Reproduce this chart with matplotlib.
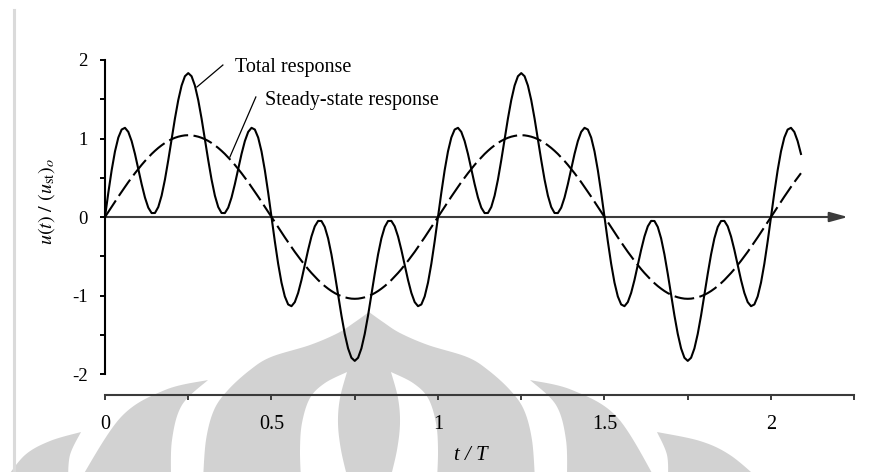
import numpy as np
import matplotlib
matplotlib.use("Agg")
import matplotlib.pyplot as plt
from matplotlib.patches import Polygon
from matplotlib.lines import Line2D
import matplotlib.transforms as mtransforms

# ---------------- data ----------------
t_over_T = np.linspace(0.0, 2.09, 210)   # sampling grid, step 0.01

total_response = [
    0.000, 0.310, 0.596, 0.836, 1.012, 1.114, 1.136, 1.084, 0.967, 0.803,
    0.612, 0.419, 0.248, 0.119, 0.050, 0.051, 0.127, 0.272, 0.477, 0.724,
    0.991, 1.254, 1.489, 1.674, 1.793, 1.833, 1.793, 1.674, 1.489, 1.254,
    0.991, 0.724, 0.477, 0.272, 0.127, 0.051, 0.050, 0.119, 0.248, 0.419,
    0.612, 0.803, 0.967, 1.084, 1.136, 1.114, 1.012, 0.836, 0.596, 0.310,
    0.000, -0.310, -0.596, -0.836, -1.012, -1.114, -1.136, -1.084, -0.967, -0.803,
    -0.612, -0.419, -0.248, -0.119, -0.050, -0.051, -0.127, -0.272, -0.477, -0.724,
    -0.991, -1.254, -1.489, -1.674, -1.793, -1.833, -1.793, -1.674, -1.489, -1.254,
    -0.991, -0.724, -0.477, -0.272, -0.127, -0.051, -0.050, -0.119, -0.248, -0.419,
    -0.612, -0.803, -0.967, -1.084, -1.136, -1.114, -1.012, -0.836, -0.596, -0.310,
    0.000, 0.310, 0.596, 0.836, 1.012, 1.114, 1.136, 1.084, 0.967, 0.803,
    0.612, 0.419, 0.248, 0.119, 0.050, 0.051, 0.127, 0.272, 0.477, 0.724,
    0.991, 1.254, 1.489, 1.674, 1.793, 1.833, 1.793, 1.674, 1.489, 1.254,
    0.991, 0.724, 0.477, 0.272, 0.127, 0.051, 0.050, 0.119, 0.248, 0.419,
    0.612, 0.803, 0.967, 1.084, 1.136, 1.114, 1.012, 0.836, 0.596, 0.310,
    0.000, -0.310, -0.596, -0.836, -1.012, -1.114, -1.136, -1.084, -0.967, -0.803,
    -0.612, -0.419, -0.248, -0.119, -0.050, -0.051, -0.127, -0.272, -0.477, -0.724,
    -0.991, -1.254, -1.489, -1.674, -1.793, -1.833, -1.793, -1.674, -1.489, -1.254,
    -0.991, -0.724, -0.477, -0.272, -0.127, -0.051, -0.050, -0.119, -0.248, -0.419,
    -0.612, -0.803, -0.967, -1.084, -1.136, -1.114, -1.012, -0.836, -0.596, -0.310,
    0.000, 0.310, 0.596, 0.836, 1.012, 1.114, 1.136, 1.084, 0.967, 0.803,
]

steady_state_response = [
    0.000, 0.065, 0.131, 0.195, 0.259, 0.322, 0.383, 0.444, 0.502, 0.558,
    0.612, 0.664, 0.713, 0.759, 0.803, 0.843, 0.880, 0.913, 0.943, 0.969,
    0.991, 1.009, 1.023, 1.033, 1.040, 1.042, 1.040, 1.033, 1.023, 1.009,
    0.991, 0.969, 0.943, 0.913, 0.880, 0.843, 0.803, 0.759, 0.713, 0.664,
    0.612, 0.558, 0.502, 0.444, 0.383, 0.322, 0.259, 0.195, 0.131, 0.065,
    0.000, -0.065, -0.131, -0.195, -0.259, -0.322, -0.383, -0.444, -0.502, -0.558,
    -0.612, -0.664, -0.713, -0.759, -0.803, -0.843, -0.880, -0.913, -0.943, -0.969,
    -0.991, -1.009, -1.023, -1.033, -1.040, -1.042, -1.040, -1.033, -1.023, -1.009,
    -0.991, -0.969, -0.943, -0.913, -0.880, -0.843, -0.803, -0.759, -0.713, -0.664,
    -0.612, -0.558, -0.502, -0.444, -0.383, -0.322, -0.259, -0.195, -0.131, -0.065,
    0.000, 0.065, 0.131, 0.195, 0.259, 0.322, 0.383, 0.444, 0.502, 0.558,
    0.612, 0.664, 0.713, 0.759, 0.803, 0.843, 0.880, 0.913, 0.943, 0.969,
    0.991, 1.009, 1.023, 1.033, 1.040, 1.042, 1.040, 1.033, 1.023, 1.009,
    0.991, 0.969, 0.943, 0.913, 0.880, 0.843, 0.803, 0.759, 0.713, 0.664,
    0.612, 0.558, 0.502, 0.444, 0.383, 0.322, 0.259, 0.195, 0.131, 0.065,
    0.000, -0.065, -0.131, -0.195, -0.259, -0.322, -0.383, -0.444, -0.502, -0.558,
    -0.612, -0.664, -0.713, -0.759, -0.803, -0.843, -0.880, -0.913, -0.943, -0.969,
    -0.991, -1.009, -1.023, -1.033, -1.040, -1.042, -1.040, -1.033, -1.023, -1.009,
    -0.991, -0.969, -0.943, -0.913, -0.880, -0.843, -0.803, -0.759, -0.713, -0.664,
    -0.612, -0.558, -0.502, -0.444, -0.383, -0.322, -0.259, -0.195, -0.131, -0.065,
    0.000, 0.065, 0.131, 0.195, 0.259, 0.322, 0.383, 0.444, 0.502, 0.558,
]

x_ticks = [0, 0.5, 1, 1.5, 2]
x_tick_labels = ["0", "0.5", "1", "1.5", "2"]
x_minor_ticks = [0.25, 0.75, 1.25, 1.75, 2.25]
y_ticks = [-2, -1, 0, 1, 2]
y_tick_labels = ["-2", "-1", "0", "1", "2"]
y_minor_ticks = [-1.5, -0.5, 0.5, 1.5]

label_total = "Total response"
label_steady = "Steady-state response"
x_label = "t / T"
y_label = r"$u(t)\ /\ (u_{\mathrm{st}})_o$"

# ---------------- figure ----------------
W, H = 870, 472
plt.rcParams["font.family"] = ["Liberation Serif", "DejaVu Serif"]
plt.rcParams["mathtext.fontset"] = "stix"
plt.rcParams["axes.unicode_minus"] = False

fig = plt.figure(figsize=(W / 100, H / 100), dpi=100)
fig.patch.set_facecolor("white")

# pixel-coordinate transform (origin top-left) for decorations
pix = mtransforms.Affine2D().scale(1 / W, -1 / H).translate(0, 1) + fig.transFigure


def smooth(pts, n=14):
    pts = np.asarray(pts, float)
    P = np.vstack([pts[0], pts, pts[-1]])
    out = []
    for i in range(1, len(P) - 2):
        p0, p1, p2, p3 = P[i - 1], P[i], P[i + 1], P[i + 2]
        for s in np.linspace(0, 1, n, endpoint=False):
            out.append(0.5 * ((2 * p1) + (-p0 + p2) * s
                              + (2 * p0 - 5 * p1 + 4 * p2 - p3) * s ** 2
                              + (-p0 + 3 * p1 - 3 * p2 + p3) * s ** 3))
    out.append(pts[-1])
    return np.array(out)


def shape(*edges):
    return np.vstack([smooth(e) for e in edges])


wm = "#d2d2d2"
gray_shapes = [
    shape([(203, 480), (206, 440), (214, 410), (228, 390), (250, 370), (271, 357),
           (310, 345), (338, 333), (355, 322), (369, 312)],
          [(369, 312), (383, 322), (400, 333), (428, 345), (467, 357), (488, 370),
           (510, 390), (524, 410), (532, 440), (535, 480)]),
    shape([(208, 380), (165, 390), (121, 417), (80, 480)],
          [(171, 480), (172, 440), (182, 405), (208, 380)]),
    shape([(530, 380), (572, 390), (617, 417), (656, 480)],
          [(567, 480), (566, 440), (556, 405), (530, 380)]),
    shape([(81, 432), (50, 441), (25, 455), (5, 480)],
          [(68, 480), (70, 455), (81, 432)]),
    shape([(657, 432), (700, 441), (730, 455), (760, 480)],
          [(668, 480), (667, 455), (657, 432)]),
]
white_shapes = [
    shape([(347, 372), (325, 383), (310, 398), (302, 423), (300, 450), (301, 480)],
          [(348, 480), (341, 450), (338, 423), (340, 398), (347, 372)]),
    shape([(391, 372), (413, 383), (428, 398), (436, 423), (438, 450), (437, 480)],
          [(390, 480), (397, 450), (400, 423), (398, 398), (391, 372)]),
]
for sh in gray_shapes:
    fig.add_artist(Polygon(sh, closed=True, facecolor=wm, edgecolor="none",
                           transform=pix, zorder=-3))
for sh in white_shapes:
    fig.add_artist(Polygon(sh, closed=True, facecolor="white", edgecolor="none",
                           transform=pix, zorder=-2))
# page border shadow at left
fig.add_artist(Line2D([14.5, 14.5], [10, 472], color="#dadada", lw=2.2,
                      transform=pix, zorder=-1))

# ---------------- axes ----------------
left_px, right_px, top_px, bottom_px = 105, 854.25, 60, 395
ax = fig.add_axes([left_px / W, 1 - bottom_px / H,
                   (right_px - left_px) / W, (bottom_px - top_px) / H])
ax.set_facecolor("none")
ax.set_xlim(0, 2.25)
ax.set_ylim(-2.2675, 2.0)

ax.spines["top"].set_visible(False)
ax.spines["right"].set_visible(False)
ax.spines["left"].set_bounds(-2, 2)
ax.spines["left"].set_linewidth(1.5)
ax.spines["left"].set_color("black")
ax.spines["bottom"].set_bounds(0, 2.25)
ax.spines["bottom"].set_linewidth(1.5)
ax.spines["bottom"].set_color("#3a3a3a")

ax.set_xticks(x_ticks)
ax.set_xticklabels(x_tick_labels, fontsize=14.5)
ax.set_xticks(x_minor_ticks, minor=True)
ax.set_yticks(y_ticks)
ax.set_yticklabels(y_tick_labels, fontsize=13.5)
ax.set_yticks(y_minor_ticks, minor=True)
ax.tick_params(axis="x", which="both", direction="out", length=3.6, width=1.4,
               color="#3a3a3a", pad=11)
ax.tick_params(axis="y", which="both", direction="out", length=3.6, width=1.4,
               color="black", pad=9)

# zero axis with arrow
ax.annotate("", xy=(2.231, 0), xytext=(0, 0),
            arrowprops=dict(arrowstyle="-|>,head_length=1.1,head_width=0.3",
                            color="#3c3c3c", lw=1.5, shrinkA=0, shrinkB=0,
                            mutation_scale=10),
            zorder=2)

# curves
ax.plot(t_over_T, total_response, color="black", lw=1.5, zorder=4,
        solid_joinstyle="round", clip_on=False)
ax.plot(t_over_T, steady_state_response, color="black", lw=1.5, zorder=3,
        dashes=(9.5, 2.6), clip_on=False)

# labels with leader lines
ax.text(0.39, 1.90, label_total, fontsize=14.5, va="center", ha="left")
ax.plot([0.276, 0.354], [1.656, 1.936], color="black", lw=0.9)
ax.text(0.48, 1.49, label_steady, fontsize=14.5, va="center", ha="left")
ax.plot([0.375, 0.453], [0.764, 1.529], color="black", lw=0.9)

fig.text(471 / W, 1 - 455 / H, x_label, fontsize=15, style="italic",
         ha="center", va="center")
fig.text(47 / W, 1 - 201 / H, y_label, fontsize=14.5, rotation=90,
         ha="center", va="center")

fig.savefig("out.png", dpi=100, facecolor="white")
